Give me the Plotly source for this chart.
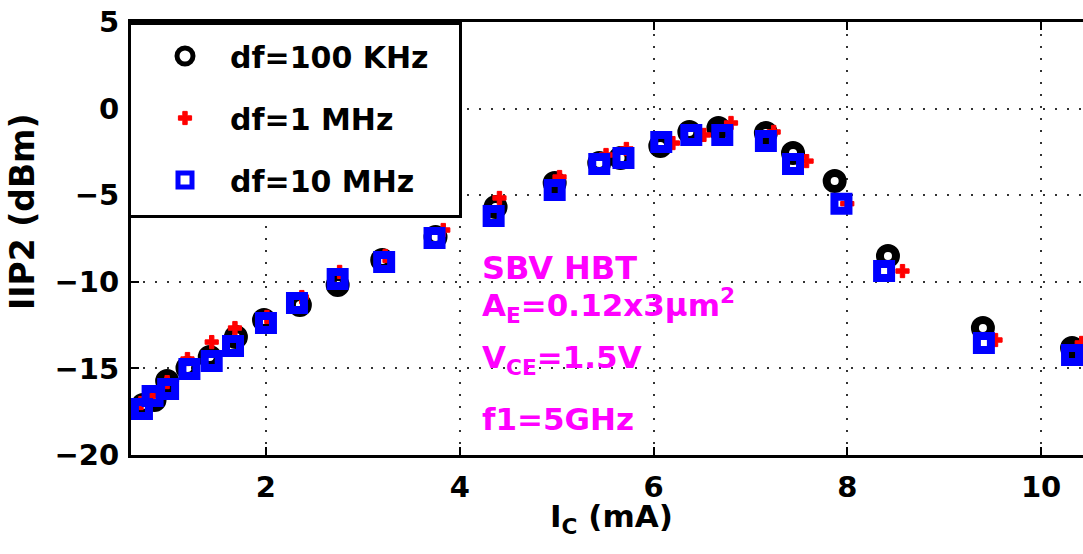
import plotly.graph_objects as go

# ---- data ----
ic_100k = [0.73, 0.85, 0.98, 1.19, 1.42, 1.69, 1.98, 2.35, 2.74, 3.20, 3.75, 4.37,
           4.98, 5.44, 5.66, 6.07, 6.37, 6.67, 7.16, 7.44, 7.87, 8.42, 9.40, 10.32]
iip2_100k = [-17.11, -16.82, -15.73, -14.98, -14.34, -13.19, -12.21, -11.34, -10.19, -8.74, -7.41, -5.68,
             -4.30, -3.14, -2.85, -2.16, -1.35, -1.12, -1.41, -2.56, -4.18, -8.51, -12.67, -13.82]

ic_1m = [0.71, 0.83, 0.98, 1.19, 1.44, 1.68, 2.01, 2.37, 2.76, 3.23, 3.83, 4.41,
         5.03, 5.51, 5.72, 6.20, 6.52, 6.80, 7.24, 7.58, 8.00, 8.57, 9.53, 10.42]
iip2_1m = [-17.00, -16.59, -15.79, -14.46, -13.48, -12.67, -12.03, -10.88, -9.43, -8.51, -7.01, -5.16,
           -3.95, -2.68, -2.33, -1.99, -1.52, -0.83, -1.35, -3.03, -5.49, -9.38, -13.36, -13.53]

ic_10m = [0.72, 0.83, 0.99, 1.21, 1.44, 1.66, 2.00, 2.32, 2.74, 3.22, 3.74, 4.35,
          4.98, 5.44, 5.69, 6.08, 6.39, 6.71, 7.16, 7.44, 7.94, 8.38, 9.41, 10.32]
iip2_10m = [-17.34, -16.59, -16.19, -15.03, -14.57, -13.71, -12.38, -11.22, -9.84, -8.86, -7.47, -6.20,
            -4.70, -3.20, -2.85, -1.93, -1.52, -1.52, -1.87, -3.20, -5.49, -9.38, -13.53, -14.23]

series_names = ["df=100 KHz", "df=1 MHz", "df=10 MHz"]

x_tick_vals = [2, 4, 6, 8, 10]
x_tick_text = ["2", "4", "6", "8", "10"]
y_tick_vals = [-20, -15, -10, -5, 0, 5]
y_tick_text = ["\u221220", "\u221215", "\u221210", "\u22125", "0", "5"]

x_range = [0.607, 10.433]
y_range = [-20, 5]

FONT = "DejaVu Sans"
MAGENTA = "#FF00FF"

# plot-area pixel geometry helpers (layout only)
PL, PT, PW, PH = 131, 22, 952, 433
def px(xp):
    return (xp - PL) / PW
def py(yp):
    return (PT + PH - yp) / PH

fig = go.Figure()
fig.add_trace(go.Scatter(
    x=ic_100k, y=iip2_100k, mode="markers", name=series_names[0], legendgroup="g1",
    marker=dict(symbol="circle-open", size=16, color="black", line=dict(width=8, color="black"))))
fig.add_trace(go.Scatter(
    x=ic_1m, y=iip2_1m, mode="markers", name=series_names[1], legendgroup="g2",
    marker=dict(symbol="cross", size=11, color="#FF0000", line=dict(width=1, color="#FF0000"))))
fig.add_trace(go.Scatter(
    x=ic_10m, y=iip2_10m, mode="markers", name=series_names[2], legendgroup="g3",
    marker=dict(symbol="square-open", size=14, color="#0000FF", line=dict(width=8, color="#0000FF"))))

axis_common = dict(
    showline=True, linewidth=3, linecolor="black",
    ticks="inside", ticklen=8, tickwidth=2, tickcolor="black",
    showgrid=True, gridcolor="#333333", gridwidth=2, griddash="2px,10px",
    zeroline=False,
    tickfont=dict(family=FONT, size=29, color="black", weight="bold"),
)

fig.update_layout(
    width=1083, height=554,
    margin=dict(l=PL, r=0, t=PT, b=554 - PT - PH),
    paper_bgcolor="white", plot_bgcolor="white",
    font=dict(family=FONT, color="black"),
    xaxis=dict(range=x_range, tickmode="array", tickvals=x_tick_vals, ticktext=x_tick_text,
               mirror="ticks", ticklabelstandoff=4, **axis_common),
    yaxis=dict(range=y_range, tickmode="array", tickvals=y_tick_vals, ticktext=y_tick_text,
               mirror=False, ticklabelstandoff=3, **axis_common),
    legend=dict(
        x=px(140), y=py(30), xanchor="left", yanchor="top",
        bgcolor="rgba(0,0,0,0)", borderwidth=0,
        font=dict(family=FONT, size=30, color="black", weight="bold"),
        traceorder="grouped", tracegroupgap=20, itemwidth=80,
    ),
    showlegend=True,
)

# legend frame
fig.add_shape(type="rect", xref="paper", yref="paper",
              x0=px(129.5), x1=px(460.5), y0=py(216.5), y1=py(23.5),
              line=dict(color="black", width=3), fillcolor="white", layer="above")

annotations = [
    dict(text="IIP2 (dBm)", xref="paper", yref="paper", x=px(22), y=py(212),
         textangle=-90, showarrow=False, xanchor="center", yanchor="middle",
         font=dict(family=FONT, size=33, color="black", weight="bold")),
    dict(text="I<sub>C</sub> (mA)", xref="paper", yref="paper", x=px(611), y=py(518),
         showarrow=False, xanchor="center", yanchor="middle",
         font=dict(family=FONT, size=31, color="black", weight="bold")),
    dict(text="SBV HBT", xref="paper", yref="paper", x=px(480), y=py(267.5),
         showarrow=False, xanchor="left", yanchor="middle",
         font=dict(family=FONT, size=32, color=MAGENTA, weight="bold")),
    dict(text="A<sub>E</sub>=0.12x3\u03bcm<sup>2</sup>", xref="paper", yref="paper", x=px(480), y=py(305),
         showarrow=False, xanchor="left", yanchor="middle",
         font=dict(family=FONT, size=31, color=MAGENTA, weight="bold")),
    dict(text="V<sub>CE</sub>=1.5V", xref="paper", yref="paper", x=px(480), y=py(359),
         showarrow=False, xanchor="left", yanchor="middle",
         font=dict(family=FONT, size=31, color=MAGENTA, weight="bold")),
    dict(text="f1=5GHz", xref="paper", yref="paper", x=px(480), y=py(419),
         showarrow=False, xanchor="left", yanchor="middle",
         font=dict(family=FONT, size=31, color=MAGENTA, weight="bold")),
]
fig.update_layout(annotations=annotations)

fig.write_html("out.html")
